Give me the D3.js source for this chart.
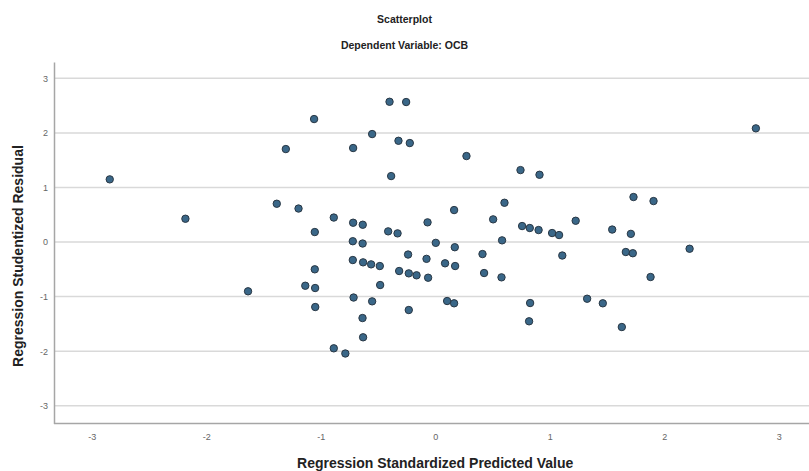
<!DOCTYPE html>
<html>
<head>
<meta charset="utf-8">
<script src="https://cdn.jsdelivr.net/npm/d3@7"></script>
<style>
  body { margin: 0; background: #fff; }
  svg { display: block; font-family: 'Liberation Sans', Arial, sans-serif; }
</style>
</head>
<body>
<svg id="chart" width="809" height="471"></svg>
<script>
// Standardized predicted values (x) and studentized residuals (y)
const predicted = [
  -2.843, -2.182, -1.635, -1.384, -1.305, -1.194, -1.135, -1.058, -1.052, -1.052,
  -1.049, -1.048, -0.886, -0.886, -0.785, -0.717, -0.717, -0.720, -0.720, -0.713,
  -0.634, -0.633, -0.630, -0.635, -0.630, -0.560, -0.551, -0.551, -0.484, -0.481,
  -0.411, -0.399, -0.385, -0.329, -0.321, -0.315, -0.254, -0.237, -0.231, -0.231,
  -0.222, -0.163, -0.076, -0.067, -0.062, 0.005, 0.086, 0.104, 0.165, 0.165,
  0.171, 0.174, 0.273, 0.413, 0.427, 0.506, 0.579, 0.584, 0.605, 0.745,
  0.759, 0.820, 0.826, 0.829, 0.903, 0.911, 1.021, 1.082, 1.110, 1.227,
  1.327, 1.464, 1.546, 1.630, 1.665, 1.709, 1.726, 1.732, 1.881, 1.907,
  2.222, 2.801
];
const residual = [
  1.149, 0.427, -0.903, 0.702, 1.704, 0.614, -0.801, 2.254, 0.183, -0.500,
  -0.843, -1.191, 0.449, -1.948, -2.043, 1.723, 0.354, 0.015, -0.330, -1.017,
  -0.027, 0.317, -0.372, -1.393, -1.746, -0.409, 1.979, -1.087, -0.440, -0.788,
  0.196, 2.571, 1.209, 0.159, 1.856, -0.531, 2.566, -0.229, -0.574, -1.246,
  1.814, -0.610, -0.308, 0.361, -0.654, -0.015, -0.390, -1.081, 0.586, -1.123,
  -0.095, -0.440, 1.576, -0.220, -0.568, 0.416, -0.647, 0.031, 0.720, 1.319,
  0.293, -1.453, 0.257, -1.118, 0.220, 1.233, 0.165, 0.128, -0.247, 0.390,
  -1.039, -1.123, 0.229, -1.558, -0.183, 0.150, -0.205, 0.825, -0.641, 0.751,
  -0.123, 2.084
];
const xTicks = [-3, -2, -1, 0, 1, 2, 3];
const yTicks = [-3, -2, -1, 0, 1, 2, 3];

const points = predicted.map((x, i) => ({ x: x, y: residual[i] }));

const svg = d3.select('#chart');

const plotLeft = 54, plotRight = 813, plotTop = 62, plotBottom = 423.5;

const x = d3.scaleLinear().domain([-3.33, 3.30]).range([plotLeft, plotRight]);
const y = d3.scaleLinear().domain([-3.326, 3.30]).range([plotBottom, plotTop]);

// plain hyphen for negatives, like the original
const tickText = d => String(d);

// Horizontal grid lines
svg.append('g')
  .selectAll('line')
  .data(yTicks)
  .enter()
  .append('line')
  .attr('x1', plotLeft)
  .attr('x2', 809)
  .attr('y1', d => y(d))
  .attr('y2', d => y(d))
  .attr('stroke', '#d9d9d9')
  .attr('stroke-width', 1.5);

// Axes
const xAxis = svg.append('g')
  .attr('transform', `translate(0,${plotBottom})`)
  .call(d3.axisBottom(x).tickValues(xTicks).tickSize(0).tickPadding(10).tickFormat(tickText));

const yAxis = svg.append('g')
  .attr('transform', `translate(${plotLeft},0)`)
  .call(d3.axisLeft(y).tickValues(yTicks).tickSize(0).tickPadding(6).tickFormat(tickText));

[xAxis, yAxis].forEach(g => {
  g.select('.domain').attr('stroke', '#a6a6a6').attr('stroke-width', 1.5);
  g.selectAll('text')
    .attr('fill', '#666')
    .style('font-size', '9px')
    .style('font-family', "'Liberation Sans', Arial, sans-serif");
});
xAxis.select('.domain').attr('d', `M${plotLeft},0H809`);

// Points
svg.append('g')
  .selectAll('circle')
  .data(points)
  .enter()
  .append('circle')
  .attr('cx', d => x(d.x))
  .attr('cy', d => y(d.y))
  .attr('r', 3.7)
  .attr('fill', '#3a6788')
  .attr('stroke', '#293744')
  .attr('stroke-width', 1);

// Titles
svg.append('text')
  .attr('x', 404.5)
  .attr('y', 23)
  .attr('text-anchor', 'middle')
  .style('font-size', '10.5px')
  .style('font-weight', 'bold')
  .attr('fill', '#222')
  .text('Scatterplot');

svg.append('text')
  .attr('x', 404.5)
  .attr('y', 49)
  .attr('text-anchor', 'middle')
  .style('font-size', '10.5px')
  .style('font-weight', 'bold')
  .attr('fill', '#222')
  .text('Dependent Variable: OCB');

svg.append('text')
  .attr('x', x(0))
  .attr('y', 468)
  .attr('text-anchor', 'middle')
  .style('font-size', '14px')
  .style('font-weight', 'bold')
  .attr('fill', '#222')
  .text('Regression Standardized Predicted Value');

svg.append('text')
  .attr('transform', `translate(23,${y(0) + 14}) rotate(-90)`)
  .attr('text-anchor', 'middle')
  .style('font-size', '14px')
  .style('font-weight', 'bold')
  .attr('fill', '#222')
  .text('Regression Studentized Residual');
</script>
</body>
</html>
